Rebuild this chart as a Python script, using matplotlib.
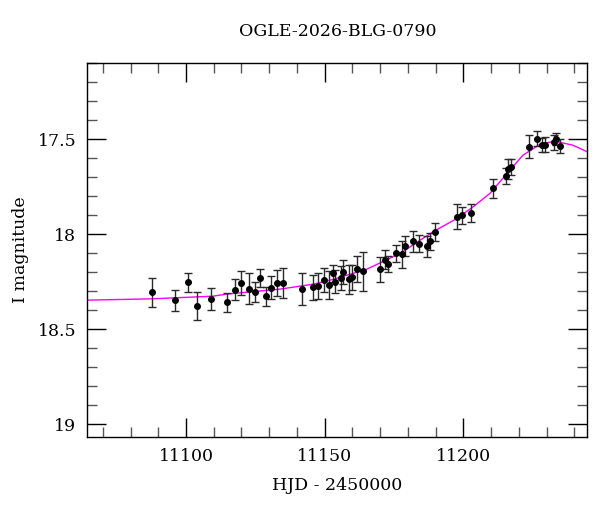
import matplotlib
matplotlib.use("Agg")
import matplotlib.pyplot as plt
from matplotlib.ticker import MultipleLocator, FuncFormatter

title = "OGLE-2026-BLG-0790"
xlabel = "HJD - 2450000"
ylabel = "I magnitude"

hjd = [11087.8, 11095.9, 11100.8, 11103.9, 11108.9, 11114.9, 11117.8, 11119.8,
       11122.8, 11124.9, 11126.8, 11128.7, 11130.8, 11132.8, 11134.9, 11141.8,
       11145.7, 11147.6, 11149.6, 11151.7, 11152.9, 11153.7, 11155.8, 11156.7,
       11158.8, 11159.7, 11161.8, 11163.8, 11169.8, 11171.7, 11172.7, 11175.8,
       11177.9, 11178.9, 11181.9, 11183.9, 11186.8, 11188.0, 11189.7, 11197.8,
       11199.6, 11202.8, 11210.6, 11215.5, 11216.2, 11217.2, 11223.6, 11226.6,
       11228.4, 11229.6, 11232.6, 11233.5, 11234.7]
mag = [18.305, 18.346, 18.253, 18.376, 18.340, 18.358, 18.290, 18.256,
       18.286, 18.302, 18.230, 18.325, 18.280, 18.255, 18.256, 18.288,
       18.279, 18.272, 18.240, 18.268, 18.205, 18.249, 18.230, 18.198,
       18.237, 18.226, 18.181, 18.195, 18.184, 18.132, 18.156, 18.100,
       18.105, 18.062, 18.037, 18.049, 18.063, 18.037, 17.988, 17.907,
       17.900, 17.888, 17.758, 17.690, 17.655, 17.644, 17.539, 17.495,
       17.528, 17.528, 17.516, 17.497, 17.535]
err = [0.076, 0.056, 0.052, 0.075, 0.057, 0.050, 0.055, 0.061,
       0.082, 0.053, 0.049, 0.050, 0.059, 0.069, 0.078, 0.083,
       0.067, 0.068, 0.061, 0.073, 0.044, 0.060, 0.064, 0.062,
       0.075, 0.066, 0.068, 0.104, 0.066, 0.050, 0.042, 0.043,
       0.071, 0.052, 0.053, 0.045, 0.054, 0.047, 0.048, 0.067,
       0.043, 0.048, 0.051, 0.042, 0.052, 0.041, 0.060, 0.038,
       0.037, 0.040, 0.040, 0.033, 0.036]

model_hjd = [11064.4, 11087.7, 11109.7, 11114.8, 11133.9, 11145.8, 11153.0,
             11165.2, 11177.2, 11189.1, 11197.7, 11203.5, 11209.6, 11215.7,
             11221.5, 11227.6, 11233.0, 11239.5, 11244.7]
model_mag = [18.346, 18.339, 18.325, 18.314, 18.288, 18.262, 18.237,
             18.183, 18.100, 17.986, 17.916, 17.855, 17.784, 17.680,
             17.583, 17.526, 17.509, 17.530, 17.565]

fig = plt.figure(figsize=(6.0, 5.12), dpi=100)
ax = fig.add_axes([0.1455, 0.147, 0.8333, 0.7305])

ax.plot(model_hjd, model_mag, color="#ff00ff", lw=1.0, zorder=1)
ax.errorbar(hjd, mag, yerr=err, fmt="o", color="black", ms=4,
            ecolor="#2a2a2a", elinewidth=1.0, capsize=3, capthick=1.0, zorder=2)

ax.set_xlim(11064.4, 11244.7)
ax.set_ylim(19.065, 17.096)

ax.xaxis.set_major_locator(MultipleLocator(50))
ax.xaxis.set_minor_locator(MultipleLocator(10))
ax.yaxis.set_major_locator(MultipleLocator(0.5))
ax.yaxis.set_minor_locator(MultipleLocator(0.1))
ax.yaxis.set_major_formatter(FuncFormatter(lambda v, p: f"{v:g}"))

ax.tick_params(which="both", direction="in", top=True, right=True,
               labelsize=12.5, width=1.0, color="black")
ax.tick_params(which="major", length=13.5, pad=8)
ax.tick_params(which="minor", length=7, color="#555555")
for lab in ax.get_xticklabels() + ax.get_yticklabels():
    lab.set_family("DejaVu Serif")
for s in ax.spines.values():
    s.set_linewidth(1.0)

ax.set_xlabel(xlabel, family="DejaVu Serif", fontsize=12.5, labelpad=9)
ax.set_ylabel(ylabel, family="DejaVu Serif", fontsize=12.5, labelpad=6)
ax.set_title(title, family="DejaVu Serif", fontsize=12.5, pad=19)

fig.savefig("out.png", dpi=100)
